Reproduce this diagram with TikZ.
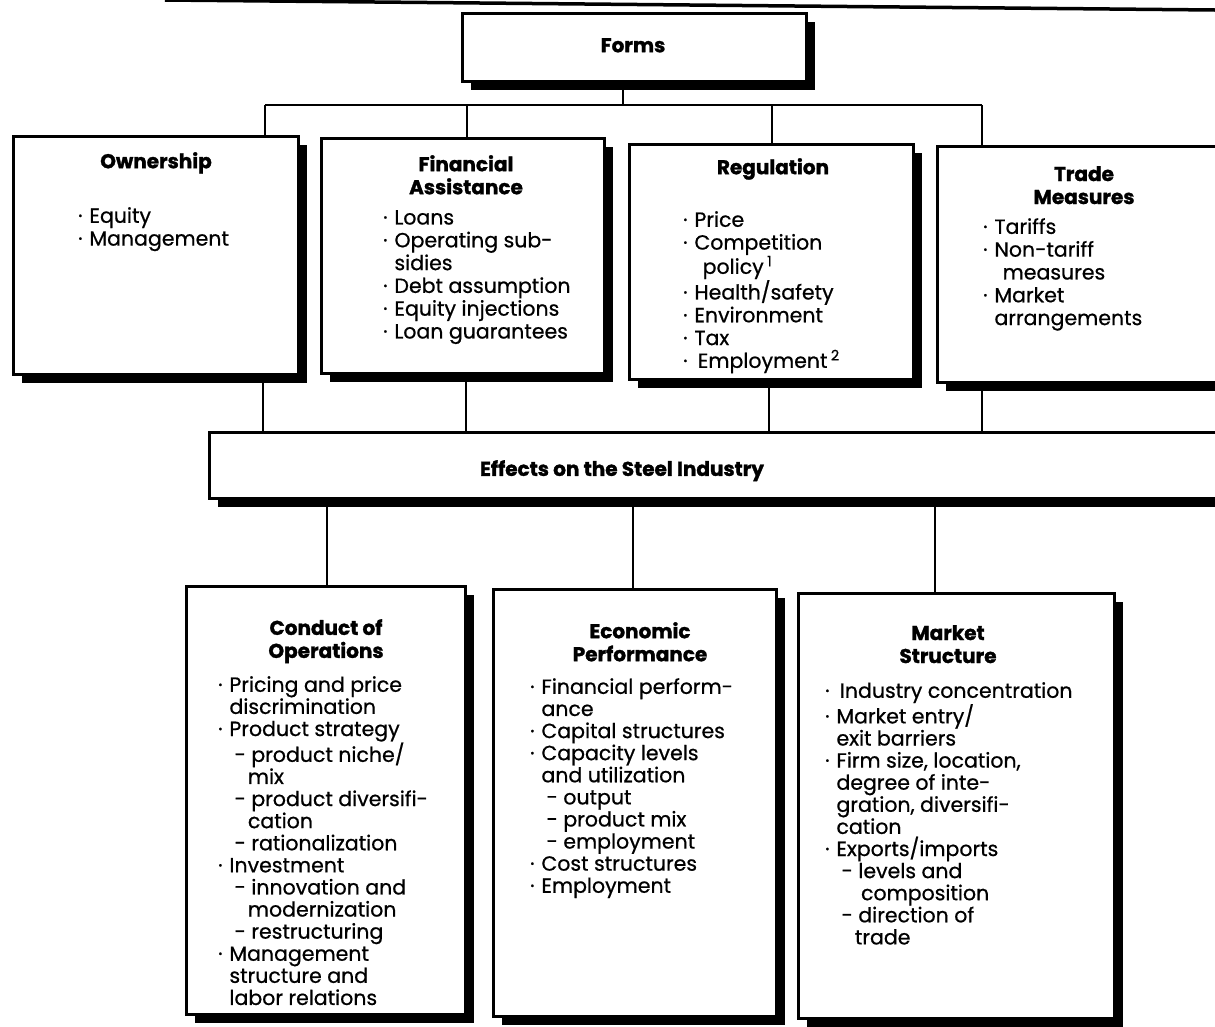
\documentclass[tikz,border=0pt]{standalone}
\usepackage{fontspec}
\setmainfont{Poppins}[FakeBold=0.7, BoldFeatures={FakeBold=1.4}]
\usetikzlibrary{shadows,backgrounds}

% list line helpers: bullet item, continuation, dash item, dash continuation
\newcommand\Bi[1]{\makebox[0.55em][l]{·}#1}
\newcommand\Bc[1]{\hspace*{0.55em}#1}
\newcommand\Bd[1]{\hspace*{0.8em}- #1}
\newcommand\Bdc[1]{\hspace*{1.45em}#1}

\tikzset{
  panel/.style={draw=black, line width=2.8pt, fill=white, inner sep=0pt,
    anchor=north west,
    general shadow={fill=black, shadow xshift=9pt, shadow yshift=-9pt}},
  head/.style={font=\fontsize{20}{23}\selectfont\bfseries, align=center,
    anchor=north, inner sep=0pt},
  toplist/.style={font=\fontsize{20.5}{22.8}\selectfont, align=left,
    anchor=north west, inner sep=0pt},
  lowlist/.style={font=\fontsize{20.5}{22.1}\selectfont, align=left,
    anchor=north west, inner sep=0pt},
  link/.style={line width=2.8pt},
}

\begin{document}
\begin{tikzpicture}[x=1pt,y=-1pt]
\useasboundingbox (0,0) rectangle (1215,1026);

% page edge stroke along the top
\draw[line width=3.5pt] (165,0) -- (1215,10);

% boxes
\node[panel, minimum width=344pt, minimum height=68pt] (forms) at (461,12) {};
\node[panel, minimum width=285pt, minimum height=238pt] (own) at (12,135) {};
\node[panel, minimum width=283pt, minimum height=235pt] (fin) at (320,137) {};
\node[panel, minimum width=284pt, minimum height=235pt] (reg) at (628,143) {};
\node[panel, minimum width=295pt, minimum height=236pt] (trade) at (936,145) {};
\node[panel, minimum width=1025pt, minimum height=66pt] (eff) at (208,431) {};
\node[panel, minimum width=279pt, minimum height=428pt] (cond) at (185,585) {};
\node[panel, minimum width=283pt, minimum height=427pt] (econ) at (492,588) {};
\node[panel, minimum width=316pt, minimum height=425pt] (mkt) at (797,592) {};

% connector positions
\coordinate (bus) at (0,105);
\coordinate (a1) at (265,0);
\coordinate (a2) at (467,0);
\coordinate (a3) at (772,0);
\coordinate (a4) at (982,0);
\coordinate (c1) at (263,0);
\coordinate (c2) at (466,0);
\coordinate (c3) at (769,0);
\coordinate (c4) at (982,0);
\coordinate (d1) at (327,0);
\coordinate (d2) at (633,0);
\coordinate (d3) at (935,0);

\begin{pgfonlayer}{background}
  \draw[link] (forms.south -| 623,0) -- (bus -| 623,0);
  \draw[link] (bus -| a1) -- (bus -| a4);
  \draw[link] (bus -| a1) -- (a1 |- own.north);
  \draw[link] (bus -| a2) -- (a2 |- fin.north);
  \draw[link] (bus -| a3) -- (a3 |- reg.north);
  \draw[link] (bus -| a4) -- (a4 |- trade.north);
  \draw[link] (c1 |- own.south) -- (c1 |- eff.north);
  \draw[link] (c2 |- fin.south) -- (c2 |- eff.north);
  \draw[link] (c3 |- reg.south) -- (c3 |- eff.north);
  \draw[link] (c4 |- trade.south) -- (c4 |- eff.north);
  \draw[link] (d1 |- eff.south) -- (d1 |- cond.north);
  \draw[link] (d2 |- eff.south) -- (d2 |- econ.north);
  \draw[link] (d3 |- eff.south) -- (d3 |- mkt.north);
\end{pgfonlayer}

% headings
\node[head] (hforms) at (633,38) {Forms};
\node[head] (hown) at (156,152) {Ownership};
\node[head] (hfin) at (466,155) {Financial\\Assistance};
\node[head] (hreg) at (773,158) {Regulation};
\node[head] (htrade) at (1084,166) {Trade\\Measures};
\node[head] (heff) at (622,460) {Effects on the Steel Industry};
\node[head] (hcond) at (326,619) {Conduct of\\Operations};
\node[head] (hecon) at (640,622) {Economic\\Performance};
\node[head] (hmkt) at (948,625) {Market\\Structure};

% item lists
\node[toplist] (lown) at (78,207) {\Bi{Equity}\\ \Bi{Management}};
\node[toplist] (lfin) at (383,210) {\Bi{Loans}\\ \Bi{Operating sub-}\\ \Bc{sidies}\\
  \Bi{Debt assumption}\\ \Bi{Equity injections}\\ \Bi{Loan guarantees}};
\node[toplist] (lreg) at (683,211) {\Bi{Price}\\ \Bi{Competition}\\
  \Bc{\hspace*{0.4em}policy\,\textsuperscript{1}}\\ \Bi{Health/safety}\\
  \Bi{Environment}\\ \Bi{Tax}\\ \Bi{\,Employment\,\textsuperscript{2}}};
\node[toplist] (ltrade) at (983,218) {\Bi{Tariffs}\\ \Bi{Non-tariff}\\
  \Bc{\hspace*{0.4em}measures}\\ \Bi{Market}\\ \Bc{arrangements}};

\node[lowlist] (lcond) at (218,676) {\Bi{Pricing and price}\\ \Bc{discrimination}\\
  \Bi{Product strategy}\\ \Bd{product niche/}\\ \Bdc{mix}\\
  \Bd{product diversifi-}\\ \Bdc{cation}\\ \Bd{rationalization}\\
  \Bi{Investment}\\ \Bd{innovation and}\\ \Bdc{modernization}\\
  \Bd{restructuring}\\ \Bi{Management}\\ \Bc{structure and}\\ \Bc{labor relations}};
\node[lowlist] (lecon) at (530,678) {\Bi{Financial perform-}\\ \Bc{ance}\\
  \Bi{Capital structures}\\ \Bi{Capacity levels}\\ \Bc{and utilization}\\
  \Bd{output}\\ \Bd{product mix}\\ \Bd{employment}\\
  \Bi{Cost structures}\\ \Bi{Employment}};
\node[lowlist] (lmkt) at (825,682) {\Bi{\,Industry concentration}\\
  \Bi{Market entry/}\\ \Bc{exit barriers}\\ \Bi{Firm size, location,}\\
  \Bc{degree of inte-}\\ \Bc{gration, diversifi-}\\ \Bc{cation}\\
  \Bi{Exports/imports}\\ \Bd{levels and}\\ \Bdc{\hspace*{0.3em}composition}\\
  \Bd{direction of}\\ \Bdc{trade}};
\end{tikzpicture}
\end{document}
